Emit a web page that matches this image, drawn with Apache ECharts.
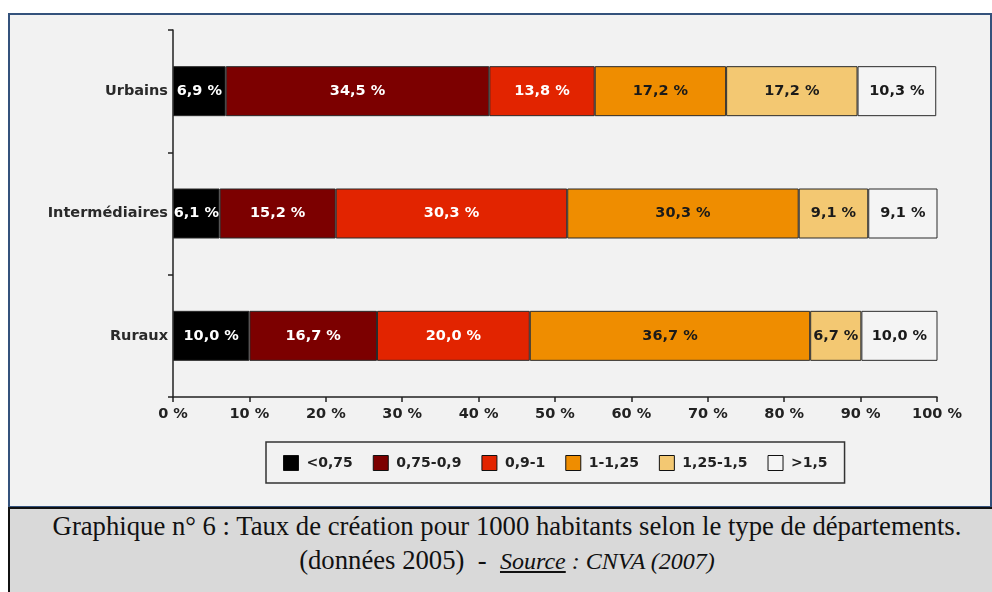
<!DOCTYPE html>
<html>
<head>
<meta charset="utf-8">
<script src="https://cdn.jsdelivr.net/npm/echarts@6/dist/echarts.min.js"></script>
<style>
  body { margin: 0; background: #ffffff; width: 992px; height: 592px; overflow: hidden; position: relative; }
  #frame { position: absolute; left: 8px; top: 13px; width: 980px; height: 491px; border: 2px solid #34527c; background: #f2f2f2; }
  #chart { position: absolute; left: 0; top: 0; width: 992px; height: 506px; }
  #caption { position: absolute; left: 8px; top: 507px; width: 994px; height: 90px; border: 2px solid #111; background: #d9d9d9;
    font-family: "Liberation Serif", serif; font-size: 26.7px; color: #111; text-align: center; line-height: 34px; padding-top: 0; }
  #caption .src { font-size: 24px; }
</style>
</head>
<body>
<div id="frame"></div>
<div id="chart"></div>
<div id="caption">
  Graphique n° 6 : Taux de création pour 1000 habitants selon le type de départements.<br>
  (données 2005)&nbsp; - &nbsp;<i class="src"><u>Source</u> : CNVA (2007)</i>
</div>
<script>
// categories and series (shares in %)
const categories = ['Urbains', 'Intermédiaires', 'Ruraux']
const classes = ['<0,75', '0,75-0,9', '0,9-1', '1-1,25', '1,25-1,5', '>1,5']
const lt075 = [6.9, 6.1, 10.0]
const s075_09 = [34.5, 15.2, 16.7]
const s09_1 = [13.8, 30.3, 20.0]
const s1_125 = [17.2, 30.3, 36.7]
const s125_15 = [17.2, 9.1, 6.7]
const gt15 = [10.3, 9.1, 10.0]
const xTicks = [0, 10, 20, 30, 40, 50, 60, 70, 80, 90, 100]

const seriesData = [lt075, s075_09, s09_1, s1_125, s125_15, gt15]
const colors = ['#000000', '#7c0000', '#e22400', '#ef8d00', '#f3c872', '#f4f4f4']
const labelColors = ['#ffffff', '#ffffff', '#ffffff', '#1a1a1a', '#1a1a1a', '#1a1a1a']

const mychart = echarts.init(document.getElementById('chart'))
const fontFam = 'DejaVu Sans, Verdana, sans-serif'

const myoption = {
  animation: false,
  backgroundColor: 'transparent',
  color: colors,
  grid: { left: 173, right: 55, top: 30, bottom: 109, containLabel: false },
  legend: {
    data: classes,
    left: 266,
    top: 442,
    padding: [13, 17, 12, 17],
    itemGap: 20,
    itemWidth: 15,
    itemHeight: 15,
    icon: 'rect',
    borderColor: '#333',
    borderWidth: 1.5,
    itemStyle: { borderColor: '#111', borderWidth: 1 },
    textStyle: { fontFamily: fontFam, fontSize: 14, fontWeight: 'bold', color: '#222', padding: [0, 0, 0, 3] }
  },
  xAxis: {
    type: 'value',
    min: 0,
    max: 100,
    interval: 10,
    splitLine: { show: false },
    axisLine: { show: true, lineStyle: { color: '#222', width: 1.5 } },
    axisTick: { show: true, length: 5, lineStyle: { color: '#222', width: 1.5 } },
    axisLabel: {
      fontFamily: fontFam, fontSize: 14.5, fontWeight: 'bold', color: '#222', margin: 10,
      formatter: function (v) { return xTicks.indexOf(v) >= 0 ? v + ' %' : '' }
    }
  },
  yAxis: {
    type: 'category',
    data: categories,
    inverse: true,
    axisLine: { show: true, lineStyle: { color: '#222', width: 1.5 } },
    axisTick: { show: true, length: 5, lineStyle: { color: '#222', width: 1.5 } },
    axisLabel: { fontFamily: fontFam, fontSize: 14.5, fontWeight: 'bold', color: '#2a2a2a', margin: 5 }
  },
  series: seriesData.map(function (d, i) {
    return {
      name: classes[i],
      type: 'bar',
      stack: 'total',
      barWidth: 50,
      data: d,
      itemStyle: { color: colors[i], borderColor: '#2a2a2a', borderWidth: 1 },
      label: {
        show: true,
        position: 'inside',
        fontFamily: fontFam,
        fontSize: 14.5,
        fontWeight: 'bold',
        color: labelColors[i],
        formatter: function (p) { return p.value.toFixed(1).replace('.', ',') + ' %' }
      }
    }
  })
}
mychart.setOption(myoption)
</script>
</body>
</html>
